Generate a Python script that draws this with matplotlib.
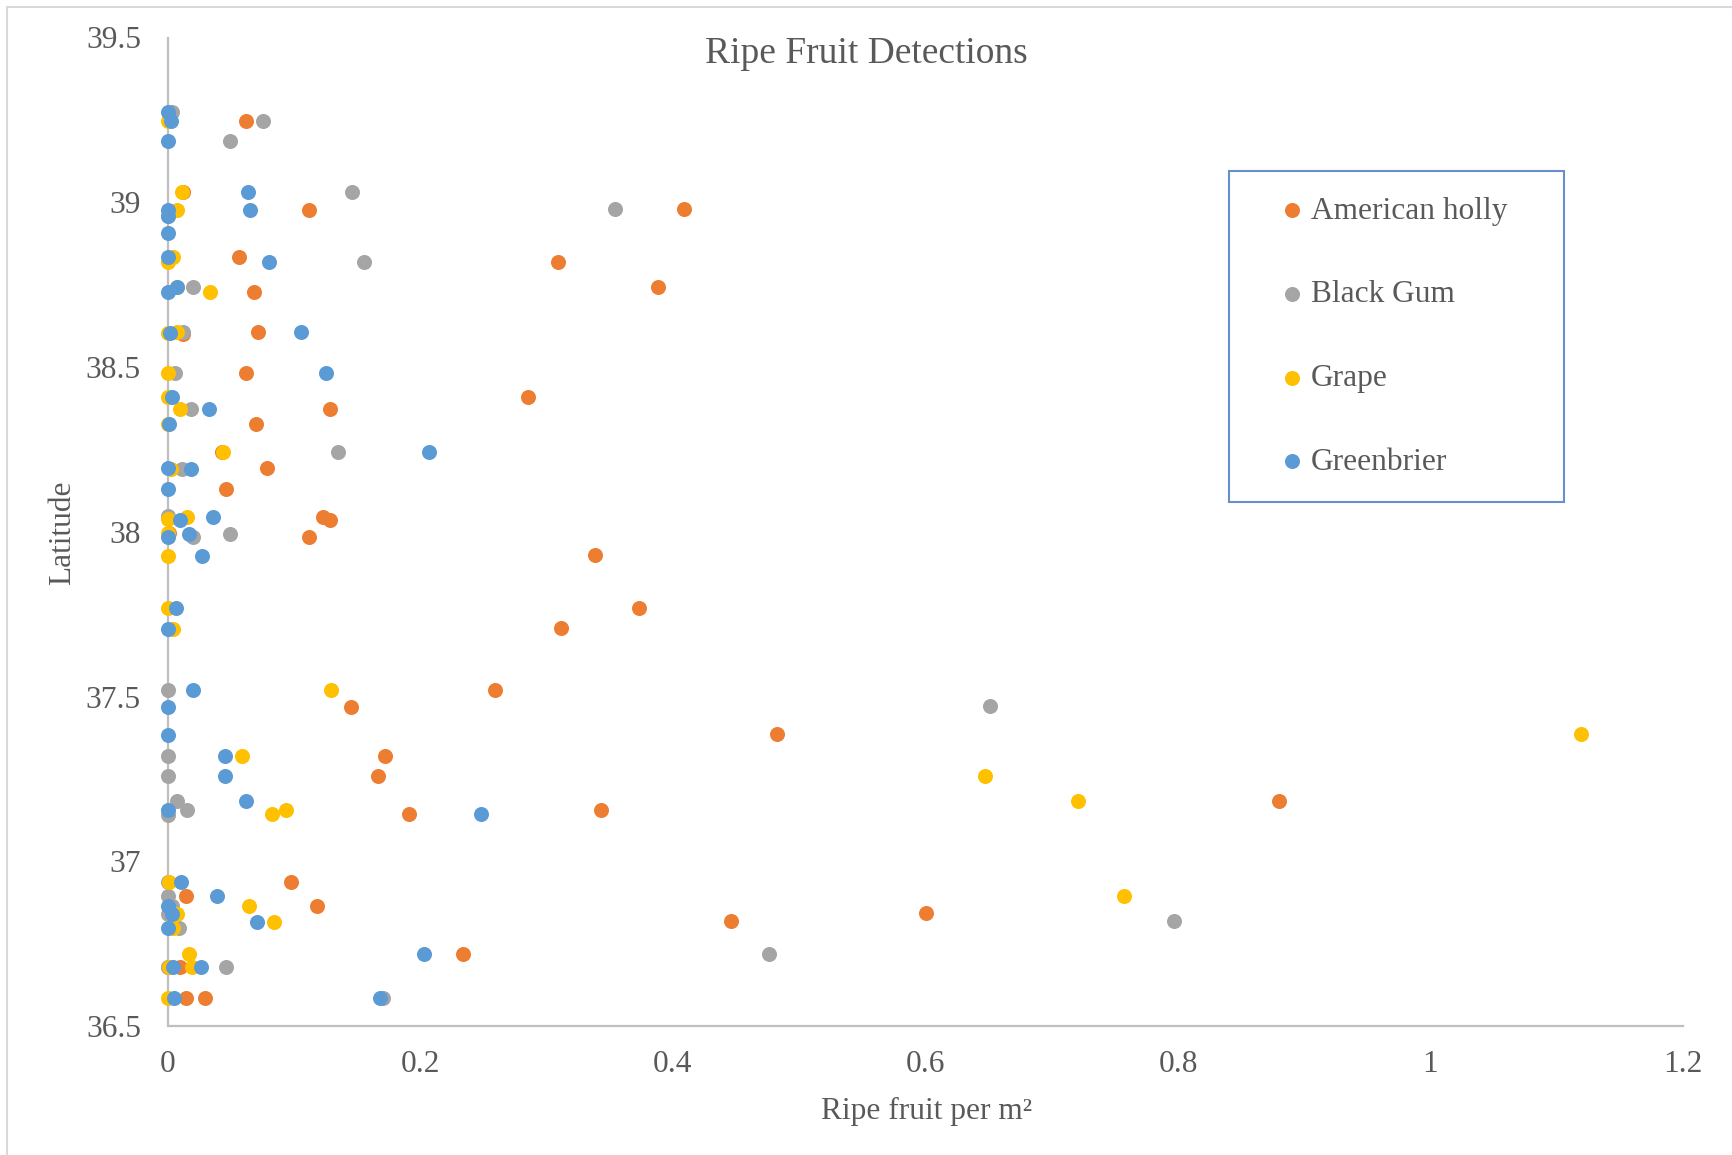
import matplotlib
matplotlib.use("Agg")
import matplotlib.pyplot as plt
from matplotlib.patches import Rectangle

plt.rcParams['font.family'] = ['Liberation Serif', 'DejaVu Serif']

TEXT = '#595959'

series_names = ['American holly', 'Black Gum', 'Grape', 'Greenbrier']
series_colors = ['#ED7D31', '#A5A5A5', '#FFC000', '#5B9BD5']

holly_lat = [39.247, 39.032, 38.976, 38.980, 38.835, 38.820, 38.742, 38.729, 38.600, 38.607,
             38.481, 38.410, 38.373, 38.327, 38.243, 38.193, 38.131, 38.046, 38.036, 37.995,
             37.983, 37.928, 37.770, 37.707, 37.520, 37.469, 37.385, 37.319, 37.259, 37.183,
             37.157, 37.143, 36.936, 36.894, 36.864, 36.842, 36.818, 36.718, 36.680, 36.680,
             36.584, 36.584]
holly_val = [0.062, 0.012, 0.112, 0.409, 0.056, 0.309, 0.388, 0.068, 0.012, 0.071,
             0.062, 0.285, 0.1286, 0.0697, 0.0425, 0.0784, 0.046, 0.1225, 0.128, 0.001,
             0.1114, 0.338, 0.373, 0.311, 0.259, 0.1447, 0.482, 0.172, 0.166, 0.880,
             0.343, 0.191, 0.0975, 0.0143, 0.1178, 0.600, 0.446, 0.234, 0.0, 0.0095,
             0.0143, 0.029]

gum_lat = [39.273, 39.247, 39.187, 39.032, 38.980, 38.958, 38.820, 38.742, 38.607, 38.481,
           38.373, 38.243, 38.190, 38.049, 37.993, 37.983, 37.520, 37.472, 37.319, 37.259,
           37.183, 37.156, 37.140, 36.936, 36.894, 36.864, 36.840, 36.818, 36.797, 36.718,
           36.680, 36.680, 36.584]
gum_val = [0.003, 0.075, 0.049, 0.146, 0.354, 0.0, 0.155, 0.020, 0.012, 0.0055,
           0.018, 0.1344, 0.011, 0.0, 0.049, 0.0195, 0.0, 0.651, 0.0, 0.0,
           0.007, 0.0148, 0.0, 0.0, 0.0, 0.003, 0.0, 0.797, 0.0087, 0.476,
           0.0, 0.0457, 0.1706]

grape_lat = [39.247, 39.032, 38.976, 38.820, 38.835, 38.742, 38.729, 38.602, 38.607, 38.481,
             38.410, 38.373, 38.327, 38.243, 38.190, 38.040, 38.046, 37.995, 37.926, 37.768,
             37.704, 37.520, 37.385, 37.319, 37.260, 37.183, 37.143, 37.156, 36.936, 36.895,
             36.864, 36.840, 36.817, 36.797, 36.717, 36.680, 36.680, 36.584]
grape_val = [0.0, 0.011, 0.007, 0.0, 0.004, 0.007, 0.033, 0.0, 0.007, 0.0,
             0.0, 0.0095, 0.0, 0.0438, 0.002, 0.0, 0.0148, 0.0, 0.0, 0.0,
             0.004, 0.129, 1.119, 0.059, 0.647, 0.721, 0.0827, 0.0935, 0.001, 0.757,
             0.064, 0.007, 0.084, 0.004, 0.0166, 0.001, 0.0188, 0.0]

greenbrier_lat = [39.273, 39.247, 39.187, 39.032, 38.976, 38.976, 38.958, 38.908, 38.835, 38.820,
                  38.742, 38.729, 38.602, 38.607, 38.481, 38.410, 38.373, 38.327, 38.243, 38.193,
                  38.190, 38.131, 38.046, 38.036, 37.993, 37.983, 37.926, 37.768, 37.704, 37.520,
                  37.469, 37.384, 37.319, 37.259, 37.183, 37.156, 37.143, 36.936, 36.894, 36.864,
                  36.840, 36.817, 36.797, 36.717, 36.680, 36.680, 36.584, 36.584]
greenbrier_val = [0.0, 0.002, 0.0, 0.063, 0.0, 0.065, 0.0, 0.0, 0.0, 0.080,
                  0.007, 0.0, 0.0015, 0.105, 0.125, 0.0035, 0.0325, 0.001, 0.207, 0.0,
                  0.018, 0.0, 0.0354, 0.0095, 0.0166, 0.0, 0.027, 0.006, 0.0, 0.020,
                  0.0, 0.0, 0.045, 0.045, 0.0615, 0.0, 0.248, 0.010, 0.039, 0.0,
                  0.0035, 0.0703, 0.0, 0.2028, 0.0042, 0.026, 0.0048, 0.168]

x_ticks = [0, 0.2, 0.4, 0.6, 0.8, 1.0, 1.2]
x_tick_labels = ['0', '0.2', '0.4', '0.6', '0.8', '1', '1.2']
y_ticks = [36.5, 37.0, 37.5, 38.0, 38.5, 39.0, 39.5]
y_tick_labels = ['36.5', '37', '37.5', '38', '38.5', '39', '39.5']

W, H = 1732, 1155
FS = 22.6
fig = plt.figure(figsize=(W / 100, H / 100), dpi=100)
ax = fig.add_axes([168 / W, 1 - 1026 / H, (1683 - 168) / W, (1026 - 37.5) / H])

data = [(holly_val, holly_lat), (gum_val, gum_lat), (grape_val, grape_lat), (greenbrier_val, greenbrier_lat)]
for (xv, yv), name, col in zip(data, series_names, series_colors):
    ax.scatter(xv, yv, s=117, color=col, linewidths=0, label=name, zorder=3, clip_on=False)

ax.set_xlim(0, 1.2)
ax.set_ylim(36.5, 39.5)
ax.set_xticks(x_ticks)
ax.set_xticklabels(x_tick_labels)
ax.set_yticks(y_ticks)
ax.set_yticklabels(y_tick_labels)
ax.tick_params(axis='both', length=0, labelsize=FS, labelcolor=TEXT)
ax.tick_params(axis='x', pad=17)
ax.tick_params(axis='y', pad=19.5)

for s in ['top', 'right']:
    ax.spines[s].set_visible(False)
for s in ['left', 'bottom']:
    ax.spines[s].set_color('#BFBFBF')
    ax.spines[s].set_linewidth(1.6)

ax.set_xlabel('Ripe fruit per m\u00b2', fontsize=FS, color=TEXT)
ax.xaxis.set_label_coords(927 / W, 1 - 1111 / H, transform=fig.transFigure)
ax.xaxis.label.set_va('center')
ax.set_ylabel('Latitude', fontsize=FS, color=TEXT)
ax.yaxis.set_label_coords(63 / W, 1 - 533 / H, transform=fig.transFigure)
ax.yaxis.label.set_va('center')

fig.text(0.5, 1 - 54 / H, 'Ripe Fruit Detections', fontsize=27, color=TEXT,
         ha='center', va='center')

leg = ax.legend(loc='upper left',
                bbox_to_anchor=(1229 / W, 1 - 502 / H, (1564 - 1229) / W, (502 - 171) / H),
                bbox_transform=fig.transFigure, mode='expand', borderaxespad=0,
                fontsize=FS, labelspacing=1.74, borderpad=0.82, handlelength=2.4,
                handletextpad=-0.62, fancybox=False, scatterpoints=1)
leg.get_frame().set_edgecolor('#4472C4')
leg.get_frame().set_linewidth(1.5)
for t in leg.get_texts():
    t.set_color(TEXT)

fig.patches.append(Rectangle((7 / W, -0.1), 2, 1 - 7 / H + 0.1, transform=fig.transFigure,
                             fill=False, edgecolor='#D9D9D9', linewidth=1.5))

fig.savefig('out.png', dpi=100)
